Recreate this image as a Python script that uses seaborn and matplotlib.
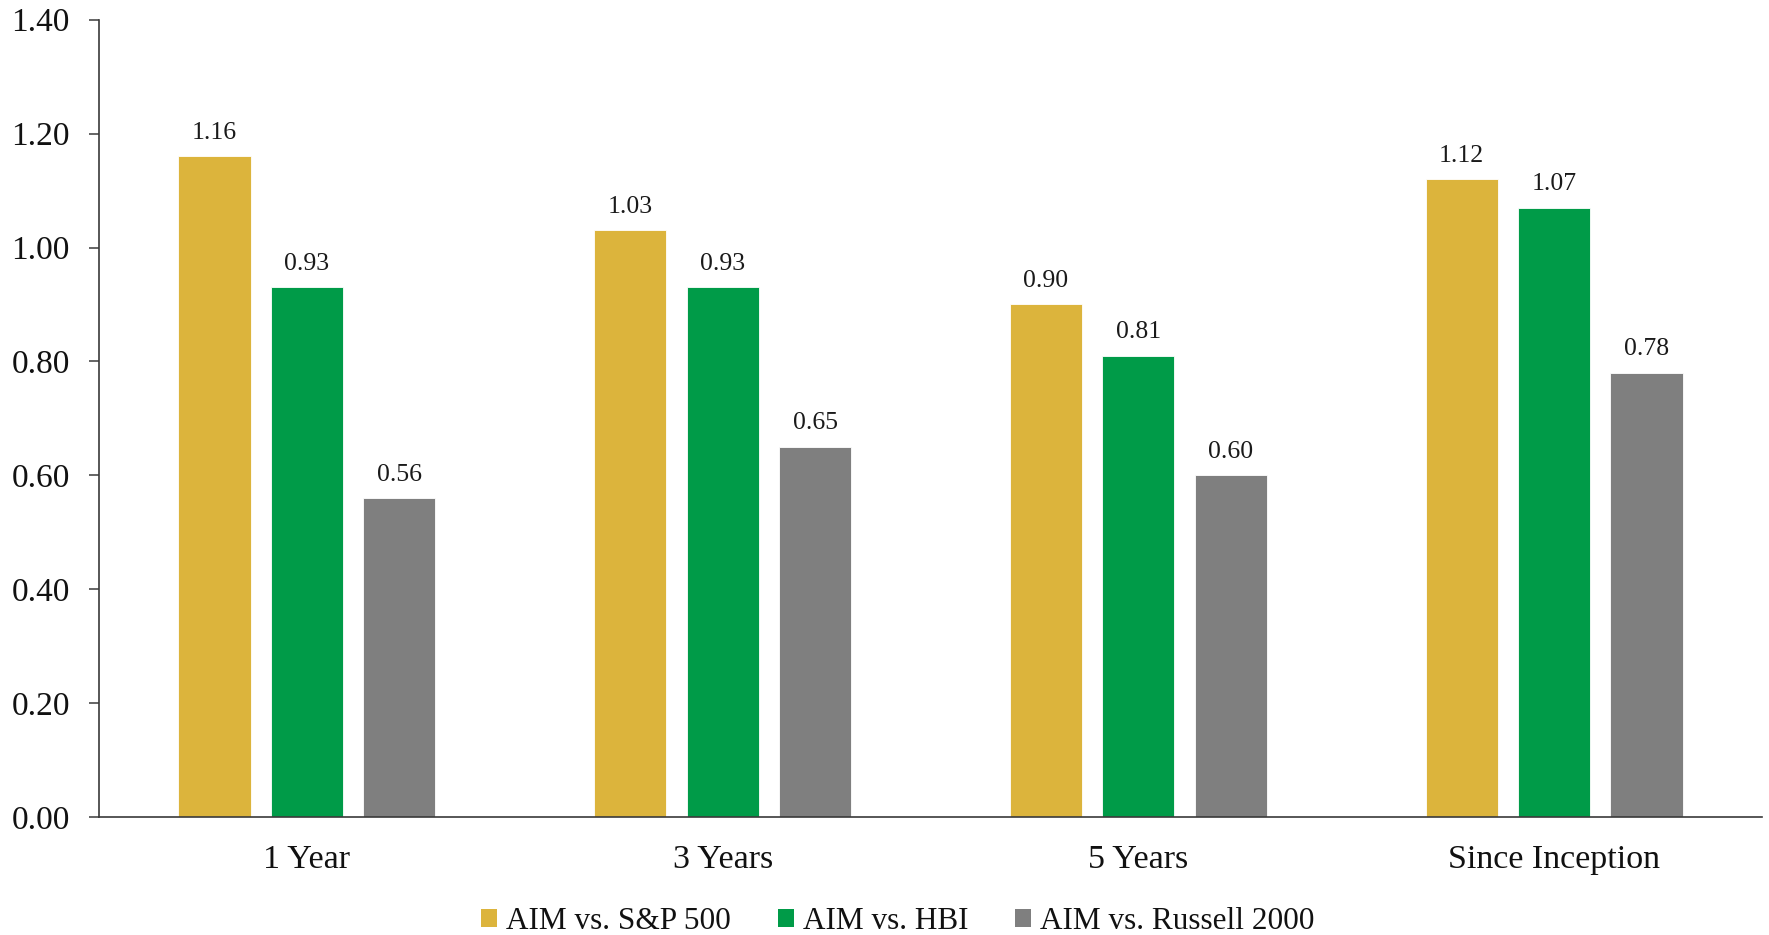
import matplotlib
matplotlib.use("Agg")
import matplotlib.pyplot as plt
from matplotlib.patches import Patch
from matplotlib.ticker import FormatStrFormatter
import seaborn as sns
import pandas as pd

periods = ["1 Year", "3 Years", "5 Years", "Since Inception"]
series_names = ["AIM vs. S&P 500", "AIM vs. HBI", "AIM vs. Russell 2000"]
sp500 = [1.16, 1.03, 0.90, 1.12]
hbi = [0.93, 0.93, 0.81, 1.07]
russell = [0.56, 0.65, 0.60, 0.78]
colors = ["#DCB43C", "#009B48", "#7F7F7F"]

rows = []
for name, vals in zip(series_names, [sp500, hbi, russell]):
    for p, v in zip(periods, vals):
        rows.append({"period": p, "series": name, "value": v})
df = pd.DataFrame(rows)

sns.set_style("white")
plt.rcParams["font.family"] = ["Liberation Serif", "DejaVu Serif"]

fig = plt.figure(figsize=(17.69, 9.35), dpi=100)
ax = fig.add_axes([0.056, 0.126, 0.940, 0.853])

sns.barplot(data=df, x="period", y="value", hue="series", order=periods,
            hue_order=series_names, palette=colors, width=0.667, gap=0.22,
            saturation=1, legend=False, errorbar=None, ax=ax,
            edgecolor="white", linewidth=0.6)

for cont in ax.containers:
    ax.bar_label(cont, fmt="%.2f", padding=9, fontsize=18.5, color="#1a1a1a")

ax.set_xlim(-0.5, 3.5)
ax.set_ylim(0, 1.4)
ax.set_yticks([0, 0.2, 0.4, 0.6, 0.8, 1.0, 1.2, 1.4])
ax.yaxis.set_major_formatter(FormatStrFormatter("%.2f"))
ax.set_xlabel("")
ax.set_ylabel("")

for s in ["top", "right"]:
    ax.spines[s].set_visible(False)
for s in ["left", "bottom"]:
    ax.spines[s].set_color("#3a3a3a")
    ax.spines[s].set_linewidth(1.2)

ax.tick_params(axis="y", which="major", left=True, length=7, width=1.1,
               color="#3a3a3a", pad=14, labelsize=24, labelcolor="#111111")
ax.tick_params(axis="x", which="major", bottom=False, length=0, pad=20,
               labelsize=24.5, labelcolor="#111111")

handles = [Patch(facecolor=c, edgecolor="none", label=n) for c, n in zip(colors, series_names)]
fig.legend(handles=handles, loc="center", bbox_to_anchor=(0.5076, 0.014), ncol=3,
           frameon=False, fontsize=22.5, handlelength=0.5, handleheight=0.5,
           handletextpad=0.3, columnspacing=1.5, labelcolor="#111111")

fig.savefig("out.png", dpi=100, facecolor="white")
